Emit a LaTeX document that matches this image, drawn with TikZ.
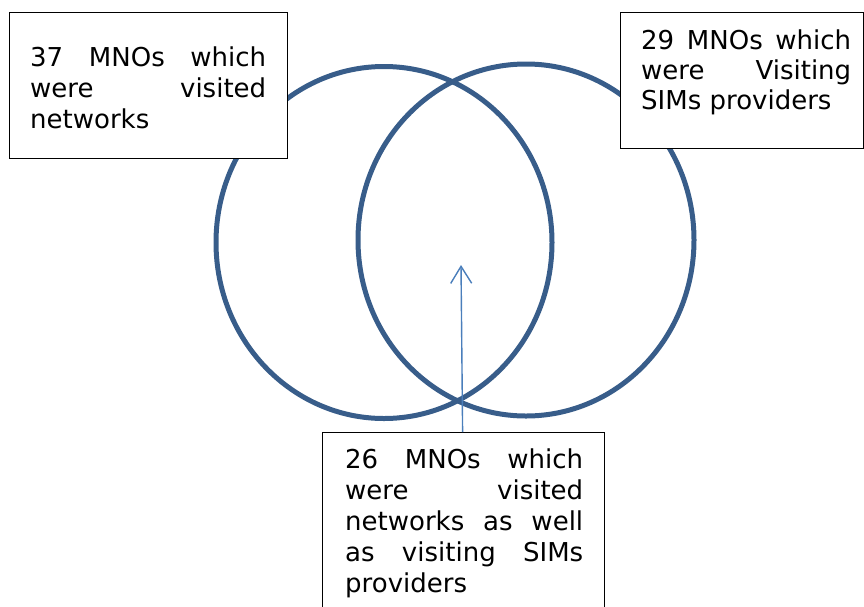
\documentclass[tikz,border=0pt]{standalone}
\usepackage{fontspec}
\setmainfont{DejaVu Sans}
\usetikzlibrary{arrows.meta}
\definecolor{ringblue}{HTML}{385D8A}
\definecolor{pointerblue}{HTML}{4A7EBB}
\hbadness=10000
\tikzset{
  ring/.style={draw=ringblue, line width=5pt},
  infobox/.style={draw=black, line width=1.2pt, fill=white, inner sep=0pt, anchor=north west},
  infotext/.style={inner sep=0pt, anchor=base west, font=\fontsize{26}{31}\selectfont},
  pointer/.style={draw=pointerblue, line width=1.4pt, -{Straight Barb[length=17pt,width=21pt,line width=1.4pt]}}
}
\newcommand{\jpar}[2]{\parbox[t]{#1}{#2}}
\begin{document}
\begin{tikzpicture}[x=1pt,y=-1pt]
  \useasboundingbox (0,0) rectangle (864,606);
  % the two overlapping sets
  \draw[ring] (384,242.5) ellipse [x radius=168, y radius=176];
  \draw[ring] (526,240) ellipse [x radius=168, y radius=176];
  % caption boxes
  \node[infobox, minimum width=278pt, minimum height=146pt] (b1) at (9,12) {};
  \node[infobox, minimum width=243pt, minimum height=136pt] (b2) at (620,12) {};
  \node[infobox, minimum width=282pt, minimum height=180pt] (b3) at (322,432) {};
  \node[infotext] (t1) at (30,66) {\jpar{236pt}{37 MNOs which\linebreak were visited\linebreak networks}};
  \node[infotext, font=\fontsize{26}{30}\selectfont] (t2) at (641,49) {\jpar{210pt}{29 MNOs which\linebreak were Visiting\linebreak SIMs providers}};
  \node[infotext] (t3) at (345,468) {\jpar{238pt}{26 MNOs which\linebreak were visited\linebreak networks as well\linebreak as visiting SIMs\linebreak providers}};
  % pointer into the overlap
  \coordinate (tip) at (461,265);
  \draw[pointer] ([xshift=-1pt]b3.north) -- (tip);
\end{tikzpicture}
\end{document}
